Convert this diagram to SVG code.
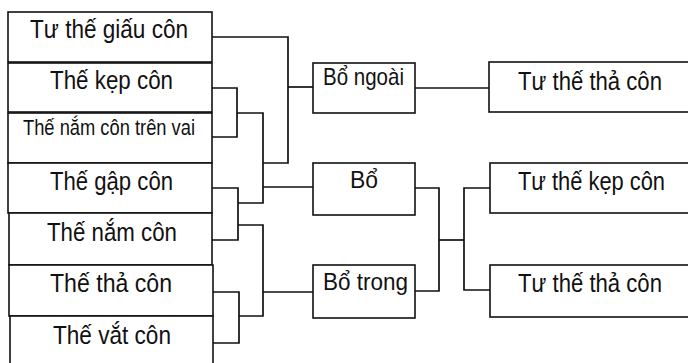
<svg xmlns="http://www.w3.org/2000/svg" width="688" height="363" viewBox="0 0 688 363">
<style>
.box{fill:#fff;stroke:#111;stroke-width:1.6}
.t{font-family:"Liberation Sans",Arial,sans-serif;fill:#111;font-size:25px}
.s{font-size:22px}
.m{font-size:24px}
.c{fill:none;stroke:#111;stroke-width:1.7}
</style>
<rect width="688" height="363" fill="#fff"/>
<g id="connectors">
<path class="c" d="M212,37 H288 V163 H263"/>
<path class="c" d="M288,87 H313"/>
<path class="c" d="M212,88 H237 V137 H212"/>
<path class="c" d="M237,113 H263 V203 H238"/>
<path class="c" d="M263,187 H313"/>
<path class="c" d="M212,188 H238 V240 H212"/>
<path class="c" d="M238,225 H263 V316 H239"/>
<path class="c" d="M263,292 H313"/>
<path class="c" d="M212,292 H239 V343 H212"/>
<path class="c" d="M415,88 H489"/>
<path class="c" d="M415,188 H439 V291 H415"/>
<path class="c" d="M439,240 H464"/>
<path class="c" d="M490,188 H464 V290 H490"/>
</g>
<g id="n1"><rect class="box" x="8" y="12" width="204" height="50"/><text class="t" x="30" y="38" textLength="158" lengthAdjust="spacingAndGlyphs">Tư thế giấu côn</text></g>
<g id="n2"><rect class="box" x="8" y="63" width="204" height="49"/><text class="t" x="50" y="89" textLength="123" lengthAdjust="spacingAndGlyphs">Thế kẹp côn</text></g>
<g id="n3"><rect class="box" x="8" y="113" width="204" height="50"/><text class="t s" x="23" y="135" textLength="172" lengthAdjust="spacingAndGlyphs">Thế nắm côn trên vai</text></g>
<g id="n4"><rect class="box" x="8" y="163" width="204" height="50"/><text class="t" x="50" y="190" textLength="123" lengthAdjust="spacingAndGlyphs">Thế gập côn</text></g>
<g id="n5"><rect class="box" x="9" y="213" width="203" height="52"/><text class="t" x="47" y="241" textLength="130" lengthAdjust="spacingAndGlyphs">Thế nắm côn</text></g>
<g id="n6"><rect class="box" x="9" y="265" width="204" height="51"/><text class="t" x="50" y="292" textLength="122" lengthAdjust="spacingAndGlyphs">Thế thả côn</text></g>
<g id="n7"><rect class="box" x="10" y="316" width="203" height="60"/><text class="t" x="53" y="344" textLength="118" lengthAdjust="spacingAndGlyphs">Thế vắt côn</text></g>
<g id="m1"><rect class="box" x="313" y="63" width="102" height="50"/><text class="t m" x="323" y="85" textLength="81" lengthAdjust="spacingAndGlyphs">Bổ ngoài</text></g>
<g id="m2"><rect class="box" x="313" y="163" width="102" height="52"/><text class="t m" x="350" y="188" textLength="28" lengthAdjust="spacingAndGlyphs">Bổ</text></g>
<g id="m3"><rect class="box" x="313" y="265" width="102" height="53"/><text class="t m" x="323" y="290" textLength="85" lengthAdjust="spacingAndGlyphs">Bổ trong</text></g>
<g id="r1"><rect class="box" x="489" y="62" width="210" height="50"/><text class="t" x="518" y="90" textLength="144" lengthAdjust="spacingAndGlyphs">Tư thế thả côn</text></g>
<g id="r2"><rect class="box" x="490" y="163" width="210" height="50"/><text class="t" x="518" y="190" textLength="147" lengthAdjust="spacingAndGlyphs">Tư thế kẹp côn</text></g>
<g id="r3"><rect class="box" x="490" y="265" width="210" height="52"/><text class="t" x="518" y="292" textLength="144" lengthAdjust="spacingAndGlyphs">Tư thế thả côn</text></g>
</svg>
